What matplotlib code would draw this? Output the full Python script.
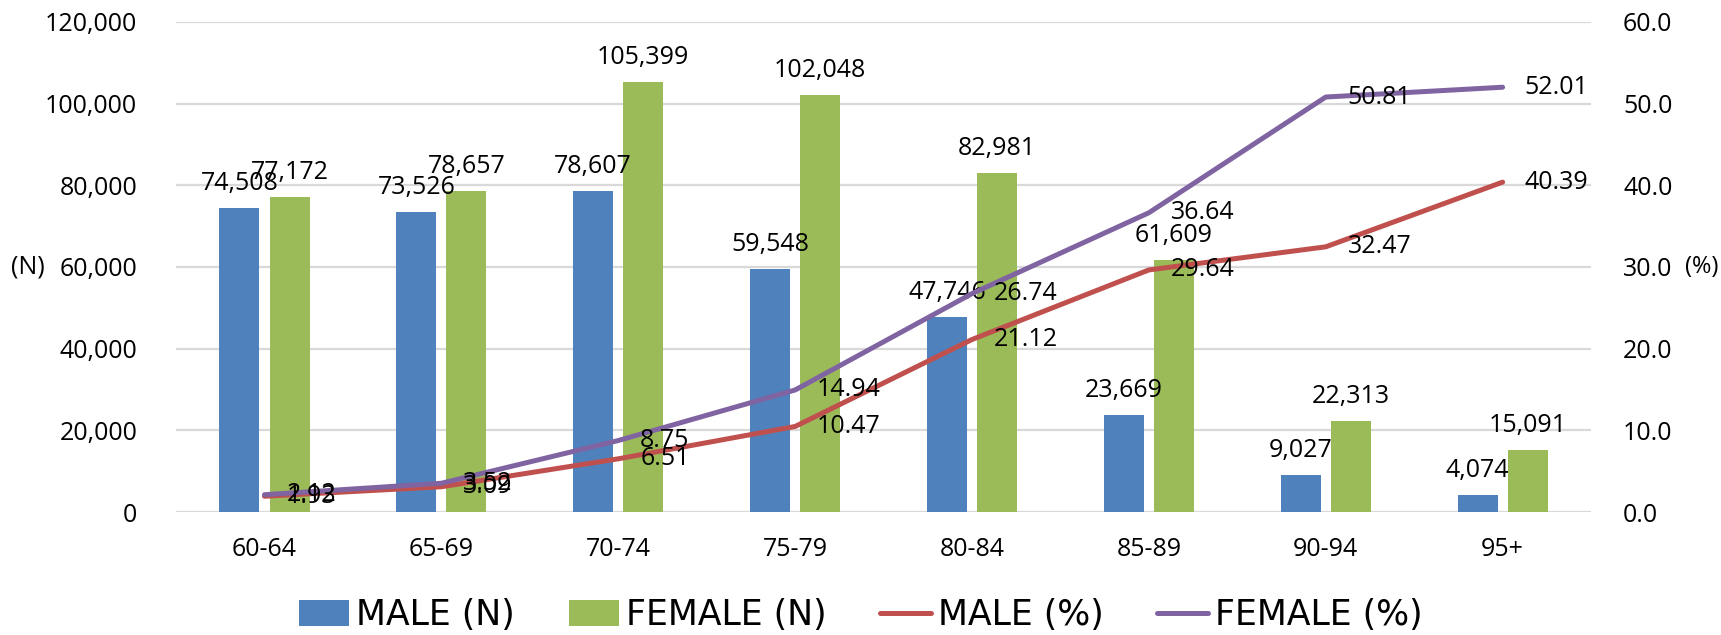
"""Age-group counts (bars, left axis) and percentages (lines, right axis) by sex."""
import matplotlib.pyplot as plt
import numpy as np
from matplotlib.ticker import FuncFormatter

age_groups = ["60-64", "65-69", "70-74", "75-79", "80-84", "85-89", "90-94", "95+"]
male_n = [74508, 73526, 78607, 59548, 47746, 23669, 9027, 4074]
female_n = [77172, 78657, 105399, 102048, 82981, 61609, 22313, 15091]
male_pct = [1.93, 3.09, 6.51, 10.47, 21.12, 29.64, 32.47, 40.39]
female_pct = [2.12, 3.52, 8.75, 14.94, 26.74, 36.64, 50.81, 52.01]

BLUE, GREEN = "#4F81BD", "#9BBB59"
RED, PURPLE = "#C0504D", "#8064A2"
GRID = "#D9D9D9"

plt.rcParams["font.family"] = ["Open Sans", "DejaVu Sans"]
FS = 18

fig = plt.figure(figsize=(17.21, 6.35), dpi=100)
ax = fig.add_axes([0.1023, 0.1937, 0.8222, 0.7717])
ax2 = ax.twinx()

x = np.arange(len(age_groups))
w, gap = 0.226, 0.057
off = (w + gap) / 2

b1 = ax.bar(x - off, male_n, w, color=BLUE, label="MALE (N)")
b2 = ax.bar(x + off, female_n, w, color=GREEN, label="FEMALE (N)")
for bars, vals in ((b1, male_n), (b2, female_n)):
    for r, v in zip(bars, vals):
        ax.annotate(f"{v:,}", (r.get_x() + r.get_width() / 2, v),
                    xytext=(0, 12), textcoords="offset pixels",
                    ha="center", va="bottom", fontsize=FS)

l1, = ax2.plot(x, male_pct, color=RED, lw=3.6, solid_capstyle="round", label="MALE (%)")
l2, = ax2.plot(x, female_pct, color=PURPLE, lw=3.6, solid_capstyle="round", label="FEMALE (%)")
for vals in (male_pct, female_pct):
    for xi, v in zip(x, vals):
        ax2.annotate(f"{v:.2f}", (xi, v), xytext=(22, 0), textcoords="offset pixels",
                     ha="left", va="center", fontsize=FS)

ax.set_xlim(-0.5, len(age_groups) - 0.5)
ax.set_ylim(0, 120000)
ax2.set_ylim(0, 60)
ax.set_yticks(np.arange(0, 120001, 20000))
ax2.set_yticks(np.arange(0, 61, 10))
ax.yaxis.set_major_formatter(FuncFormatter(lambda v, _: f"{v:,.0f}"))
ax2.yaxis.set_major_formatter(FuncFormatter(lambda v, _: f"{v:.1f}"))
ax.set_xticks(x, age_groups)

for a in (ax, ax2):
    for s in a.spines.values():
        s.set_visible(False)
    a.tick_params(length=0, labelsize=FS, colors="black")
ax.tick_params(axis="y", pad=28)
ax2.tick_params(axis="y", pad=23)
ax.tick_params(axis="x", pad=18)
ax.grid(axis="y", color=GRID, lw=1.6)
ax.set_axisbelow(True)

# axis unit labels sit beside the 60,000 / 30.0 ticks
y_mid = ax.transData.transform((0, 60000))[1] / fig.bbox.height
fig.text(28 / 1721, y_mid, "(N)", ha="center", va="center", fontsize=FS)
fig.text(1685 / 1721, y_mid, "(%)", ha="left", va="center", fontsize=17)

fig.legend(handles=[b1, b2, l1, l2], loc="center", bbox_to_anchor=(0.5, 1 - 615 / 635),
           ncol=4, frameon=False, prop={"family": ["Liberation Sans Narrow", "DejaVu Sans"], "size": 25},
           handlelength=1.45, handleheight=0.75, handletextpad=0.2, columnspacing=1.55,
           borderaxespad=0, borderpad=0)

fig.savefig("out.png", dpi=100)
